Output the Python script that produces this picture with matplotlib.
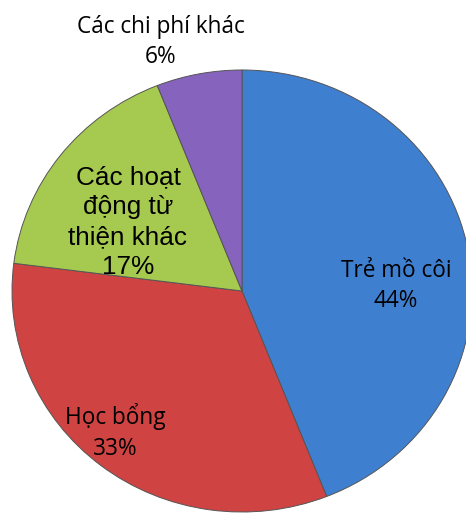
import matplotlib
matplotlib.use("Agg")
import matplotlib.pyplot as plt

labels = ["Trẻ mồ côi", "Học bổng", "Các hoạt\nđộng từ\nthiện khác", "Các chi phí khác"]
values = [44, 33, 17, 6]
colors = ["#3f7fd0", "#d04343", "#a6c94f", "#8663bd"]

W, H = 466, 529
CX, CY, RX, RY = 242, 291, 230, 221

fig = plt.figure(figsize=(W / 100, H / 100), dpi=100)
ax = fig.add_axes([0, 0, 1, 1])
ax.pie(values, colors=colors, startangle=90, counterclock=False, radius=1,
       wedgeprops=dict(edgecolor="#555555", linewidth=0.7))
ax.set_aspect("auto")
ax.set_xlim(-CX / RX, (W - CX) / RX)
ax.set_ylim(-(H - CY) / RY, CY / RY)
ax.axis("off")


def px(x, y):
    return (x - CX) / RX, (CY - y) / RY


label_pos = [(396, 286), (115, 432), (128, 222), (161, 42)]
fonts = ["Open Sans", "Open Sans", "Liberation Sans", "Open Sans"]
sizes = [16.3, 16.3, 18.8, 16.3]
for lab, v, pos, fam, sz in zip(labels, values, label_pos, fonts, sizes):
    x, y = px(*pos)
    ax.text(x, y, f"{lab}\n{v}%", ha="center", va="center", multialignment="center",
            fontsize=sz, family=[fam, "DejaVu Sans"], color="black",
            linespacing=1.3 if fam == "Liberation Sans" else 1.38)

fig.savefig("out.png", dpi=100)
